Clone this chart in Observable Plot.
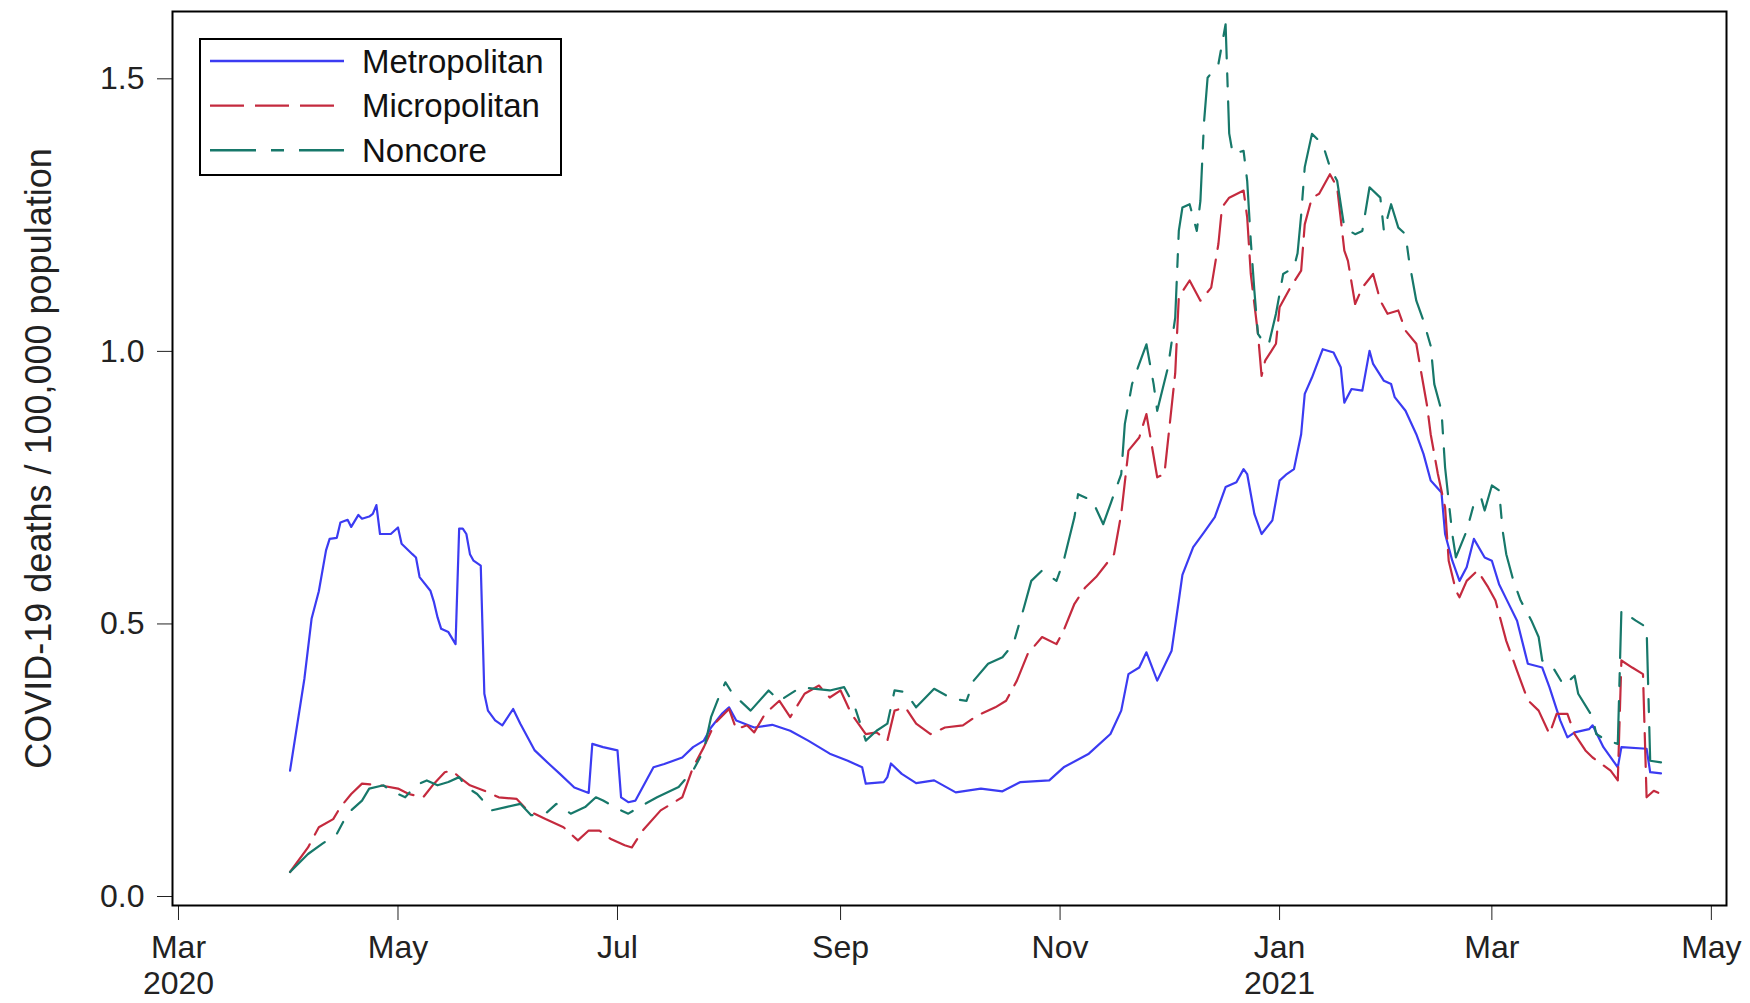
<!DOCTYPE html>
<html>
<head>
<meta charset="utf-8">
<script src="https://cdn.jsdelivr.net/npm/d3@7"></script>
<script src="https://cdn.jsdelivr.net/npm/@observablehq/plot@0.6"></script>
<style>
  html, body { margin: 0; padding: 0; background: #fff; overflow: hidden; }
  #wrap { position: relative; width: 1750px; height: 1003px; font-family: "Liberation Sans", Arial, sans-serif; }
  #legend { position: absolute; left: 199px; top: 38px; width: 359px; height: 134px; border: 2px solid #000; background: #fff; }
  #legend svg { display: block; }
</style>
</head>
<body>
<div id="wrap"></div>
<script>
// Series names and styles
const seriesNames = ["Metropolitan", "Micropolitan", "Noncore"];
const seriesColors = ["#3b3bf2", "#c42a3e", "#17786a"];
const seriesDash = ["none", "34,11", "46,15,13,15"];

// Days since 1 March 2020 and values (deaths / 100,000)
const metroDay = [31,35,37,39,41,42,44,45,47,48,50,51,53,54,55,56,59,61,62,65,66,67,70,71,72,73,75,77,78,79,80,81,82,84,85,86,88,90,93,95,99,103,106,110,114,115,118,122,123,125,127,132,135,140,143,146,148,151,153,155,160,165,170,175,181,186,190,191,196,197,198,201,205,210,216,223,229,234,242,246,253,259,262,264,267,269,272,276,278,279,282,285,288,291,294,296,297,299,301,304,306,308,310,312,313,315,318,321,323,324,326,329,331,332,335,337,338,341,344,346,348,351,352,354,356,358,360,363,365,367,369,372,375,379,381,384,386,388,392,393,396,400,401,408,409,412];
const metroVal = [0.231,0.40,0.51,0.56,0.635,0.656,0.658,0.686,0.691,0.678,0.700,0.693,0.697,0.702,0.718,0.665,0.665,0.677,0.647,0.628,0.622,0.586,0.561,0.54,0.512,0.491,0.485,0.463,0.675,0.675,0.665,0.628,0.616,0.607,0.372,0.341,0.323,0.314,0.344,0.317,0.268,0.243,0.225,0.200,0.190,0.280,0.274,0.268,0.182,0.173,0.176,0.237,0.243,0.255,0.274,0.286,0.310,0.335,0.347,0.323,0.310,0.315,0.304,0.286,0.262,0.249,0.237,0.207,0.210,0.219,0.244,0.225,0.208,0.213,0.191,0.198,0.193,0.210,0.213,0.237,0.262,0.298,0.341,0.408,0.420,0.448,0.396,0.451,0.543,0.590,0.641,0.668,0.696,0.751,0.760,0.784,0.775,0.702,0.665,0.690,0.763,0.775,0.784,0.848,0.922,0.952,1.004,0.998,0.971,0.906,0.931,0.928,1.001,0.977,0.946,0.940,0.916,0.891,0.848,0.812,0.763,0.741,0.665,0.616,0.579,0.604,0.656,0.622,0.616,0.573,0.546,0.506,0.427,0.420,0.384,0.323,0.292,0.301,0.307,0.314,0.274,0.237,0.274,0.271,0.228,0.226];

const microDay = [31,36,39,43,45,48,51,56,61,64,68,71,74,76,78,81,85,89,94,97,102,107,111,114,117,120,124,126,129,134,140,143,146,149,153,155,158,160,163,167,170,174,178,181,184,187,191,194,197,199,202,205,209,213,218,222,227,230,233,236,240,244,246,249,252,255,260,262,264,267,269,272,274,277,278,281,284,287,289,290,292,296,297,298,300,301,302,305,306,309,312,313,315,317,320,322,324,325,327,329,332,334,336,339,341,344,345,347,348,350,352,353,355,356,358,361,364,366,369,372,375,378,381,383,386,388,391,393,398,400,401,404,407,408,410,412];
const microVal = [0.045,0.090,0.127,0.142,0.164,0.188,0.207,0.204,0.198,0.188,0.182,0.207,0.228,0.231,0.219,0.204,0.194,0.182,0.179,0.158,0.142,0.127,0.103,0.121,0.121,0.106,0.094,0.090,0.121,0.158,0.182,0.237,0.274,0.317,0.344,0.307,0.314,0.301,0.335,0.359,0.329,0.372,0.387,0.365,0.378,0.335,0.298,0.301,0.286,0.341,0.347,0.317,0.298,0.310,0.314,0.332,0.347,0.359,0.396,0.445,0.476,0.463,0.488,0.537,0.567,0.586,0.628,0.702,0.818,0.842,0.885,0.769,0.775,0.960,1.100,1.130,1.093,1.117,1.197,1.264,1.282,1.295,1.246,1.142,1.032,0.955,0.983,1.014,1.081,1.117,1.148,1.233,1.282,1.289,1.325,1.301,1.185,1.166,1.087,1.117,1.142,1.093,1.069,1.075,1.038,1.014,0.975,0.900,0.848,0.775,0.714,0.616,0.561,0.549,0.579,0.598,0.567,0.543,0.469,0.414,0.360,0.341,0.298,0.335,0.335,0.298,0.268,0.255,0.231,0.213,0.433,0.420,0.408,0.182,0.194,0.188];

const noncoreDay = [31,36,40,44,47,51,53,57,59,63,66,69,72,75,78,80,83,87,91,95,98,102,105,109,113,116,118,122,125,128,133,139,143,146,148,150,152,154,159,164,167,173,177,181,185,188,191,194,197,199,202,205,210,215,219,221,225,229,232,235,237,240,244,246,249,250,254,257,259,262,263,265,267,269,271,272,275,277,278,279,281,283,284,285,286,289,291,292,293,296,297,298,299,300,302,303,305,307,310,311,312,313,315,318,320,322,324,327,329,331,334,335,337,339,341,342,344,346,348,349,351,352,353,354,355,358,360,362,363,365,367,368,369,371,373,376,378,379,382,385,388,389,393,394,397,400,401,405,408,409,412];
const noncoreVal = [0.045,0.078,0.097,0.115,0.152,0.176,0.198,0.204,0.194,0.182,0.204,0.213,0.204,0.210,0.219,0.201,0.188,0.158,0.164,0.170,0.149,0.152,0.170,0.152,0.164,0.182,0.176,0.161,0.152,0.164,0.182,0.201,0.231,0.268,0.329,0.363,0.393,0.372,0.341,0.378,0.359,0.384,0.381,0.378,0.384,0.347,0.286,0.304,0.317,0.378,0.375,0.347,0.381,0.363,0.359,0.396,0.427,0.439,0.463,0.531,0.579,0.598,0.579,0.616,0.696,0.738,0.726,0.683,0.720,0.775,0.867,0.940,0.977,1.013,0.940,0.891,0.971,1.062,1.221,1.264,1.270,1.221,1.276,1.420,1.502,1.527,1.600,1.400,1.362,1.368,1.313,1.203,1.111,1.032,1.013,1.013,1.069,1.142,1.154,1.180,1.250,1.338,1.399,1.380,1.338,1.313,1.227,1.215,1.221,1.301,1.282,1.221,1.270,1.227,1.215,1.166,1.093,1.056,1.010,0.940,0.891,0.787,0.726,0.665,0.622,0.671,0.720,0.732,0.708,0.754,0.745,0.671,0.628,0.579,0.543,0.506,0.476,0.433,0.420,0.387,0.405,0.372,0.329,0.298,0.286,0.280,0.525,0.506,0.494,0.249,0.246];

// Axis ticks
const xTickDates = ["2020-03-01","2020-05-01","2020-07-01","2020-09-01","2020-11-01","2021-01-01","2021-03-01","2021-05-01"];
const xTickLabels = ["Mar\n2020","May","Jul","Sep","Nov","Jan\n2021","Mar","May"];
const yTicks = [0, 0.5, 1.0, 1.5];
const yLabel = "COVID-19 deaths / 100,000 population";
const xDomain = ["2020-02-28T08:00:00Z", "2021-05-05T05:00:00Z"];
const yDomain = [-0.0165, 1.6235];

// Build table
const START = Date.UTC(2020, 2, 1);
const dayToDate = d => new Date(START + d * 864e5);
const seriesDays = [metroDay, microDay, noncoreDay];
const seriesVals = [metroVal, microVal, noncoreVal];
const table = [];
seriesNames.forEach((name, i) => {
  seriesDays[i].forEach((d, j) => table.push({date: dayToDate(d), value: seriesVals[i][j], series: name}));
});

const tickDates = xTickDates.map(s => new Date(s + "T00:00:00Z"));
const tickLabelMap = new Map(tickDates.map((d, i) => [+d, xTickLabels[i]]));

const chart = Plot.plot({
  width: 1750,
  height: 1003,
  marginLeft: 172,
  marginRight: 24,
  marginTop: 11,
  marginBottom: 98,
  style: {fontFamily: "'Liberation Sans', Arial, sans-serif", fontSize: "32px", color: "#222", background: "#fff"},
  x: {type: "utc", domain: xDomain.map(s => new Date(s))},
  y: {domain: yDomain},
  marks: [
    Plot.axisX({ticks: tickDates, tickFormat: d => tickLabelMap.get(+d), tickSize: 15, tickPadding: 12, fontSize: 32, lineHeight: 1.12, label: null}),
    Plot.axisY({ticks: yTicks, tickFormat: d3.format(".1f"), tickSize: 15, tickPadding: 13, fontSize: 32, label: null}),
    Plot.text([yLabel], {frameAnchor: "left", dx: -133, rotate: -90, fontSize: 36, textAnchor: "middle", lineAnchor: "middle", fill: "#222"}),
    ...seriesNames.map((name, i) => Plot.line(table.filter(r => r.series === name), {
      x: "date", y: "value", stroke: seriesColors[i], strokeWidth: 2.2,
      strokeDasharray: seriesDash[i] === "none" ? null : seriesDash[i], strokeLinejoin: "round"
    })),
    Plot.frame({stroke: "#000", strokeWidth: 2})
  ]
});

const wrap = document.getElementById("wrap");
wrap.appendChild(chart);

// Legend (inside the plot area, upper left)
const legend = document.createElement("div");
legend.id = "legend";
wrap.appendChild(legend);
const lsvg = d3.select(legend).append("svg").attr("width", 359).attr("height", 134);
seriesNames.forEach((name, i) => {
  const cy = 21 + i * 44.6;
  lsvg.append("line").attr("x1", 9).attr("x2", 143).attr("y1", cy).attr("y2", cy)
    .attr("stroke", seriesColors[i]).attr("stroke-width", 2.4)
    .attr("stroke-dasharray", seriesDash[i] === "none" ? null : seriesDash[i]);
  lsvg.append("text").attr("x", 161).attr("y", cy).attr("dy", "0.36em")
    .attr("font-family", "'Liberation Sans', Arial, sans-serif").attr("font-size", 33).attr("fill", "#111")
    .text(name);
});
</script>
</body>
</html>
